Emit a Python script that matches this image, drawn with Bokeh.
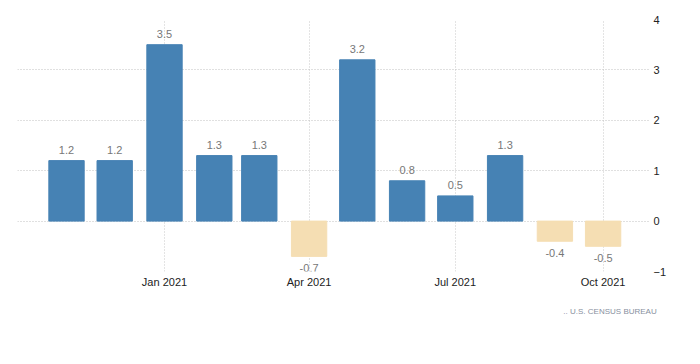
import pandas as pd
from bokeh.plotting import figure
from bokeh.models import (ColumnDataSource, Range1d, LinearAxis, DatetimeTickFormatter,
                          FixedTicker, SingleIntervalTicker, Title)
from bokeh.core.properties import value
from bokeh.embed import file_html
from bokeh.resources import INLINE

months = ["2020-11-01", "2020-12-01", "2021-01-01", "2021-02-01", "2021-03-01", "2021-04-01",
          "2021-05-01", "2021-06-01", "2021-07-01", "2021-08-01", "2021-09-01", "2021-10-01"]
values = [1.2, 1.2, 3.5, 1.3, 1.3, -0.7, 3.2, 0.8, 0.5, 1.3, -0.4, -0.5]
tick_dates = ["2021-01-01", "2021-04-01", "2021-07-01", "2021-10-01"]
source_text = "..                U.S.  CENSUS  BUREAU"

POS = "#4682B4"
NEG = "#F5DEB3"

dates = pd.to_datetime(months)
labels = [f"{v:.1f}" for v in values]
pos = [v >= 0 for v in values]
src_pos = ColumnDataSource(dict(x=[d for d, p in zip(dates, pos) if p],
                                y=[v for v, p in zip(values, pos) if p],
                                t=[l for l, p in zip(labels, pos) if p]))
src_neg = ColumnDataSource(dict(x=[d for d, p in zip(dates, pos) if not p],
                                y=[v for v, p in zip(values, pos) if not p],
                                t=[l for l, p in zip(labels, pos) if not p]))

p = figure(width=684, height=348, x_axis_type="datetime", output_backend="svg",
           toolbar_location=None, y_axis_location=None,
           x_range=Range1d(pd.Timestamp("2020-10-01 12:00"), pd.Timestamp("2021-10-30 12:00")),
           y_range=Range1d(-1, 4),
           min_border_left=17, min_border_right=34, min_border_top=19, min_border_bottom=77)
p.outline_line_color = None
p.background_fill_color = "white"
p.border_fill_color = "white"

W = 22 * 86400000
p.vbar(x="x", top="y", bottom=0, width=W, source=src_pos, fill_color=POS, line_color=POS)
p.vbar(x="x", top="y", bottom=0, width=W, source=src_neg, fill_color=NEG, line_color=NEG)

p.text(x="x", y="y", text="t", source=src_pos, text_align="center", text_baseline="bottom",
       y_offset=-7, text_font=value("Liberation Sans"), text_font_size="11px", text_color="#777777")
p.text(x="x", y="y", text="t", source=src_neg, text_align="center", text_baseline="top",
       y_offset=8, text_font=value("Liberation Sans"), text_font_size="11px", text_color="#777777")

tick_ms = [pd.Timestamp(t).value // 10**6 for t in tick_dates]
xa = p.xaxis[0]
xa.ticker = FixedTicker(ticks=tick_ms)
xa.formatter = DatetimeTickFormatter(months="%b %Y", days="%b %Y", years="%b %Y")
xa.axis_line_color = None
xa.major_tick_line_color = None
xa.minor_tick_line_color = None
xa.major_label_standoff = -2
xa.major_label_text_font = "Liberation Sans"
xa.major_label_text_font_size = "11px"
xa.major_label_text_color = "#222222"

ya = LinearAxis(ticker=SingleIntervalTicker(interval=1))
ya.axis_line_color = None
ya.major_tick_line_color = None
ya.minor_tick_line_color = None
ya.major_label_standoff = -3
ya.major_label_text_font = "Liberation Sans"
ya.major_label_text_font_size = "11px"
ya.major_label_text_color = "#222222"
p.add_layout(ya, "right")

p.xgrid.ticker = xa.ticker
p.xgrid.grid_line_color = "#c8c8c8"
p.xgrid.grid_line_dash = "1 2"
p.ygrid.ticker = ya.ticker
p.ygrid.grid_line_color = "#c0c0c0"
p.ygrid.grid_line_dash = "1 2"

p.add_layout(Title(text=source_text, align="right", text_font="Liberation Sans",
                   text_font_size="8px", text_font_style="normal", text_color="#8890a0",
                   offset=-44, standoff=28), "below")

open("out.html", "w").write(file_html(p, INLINE))
